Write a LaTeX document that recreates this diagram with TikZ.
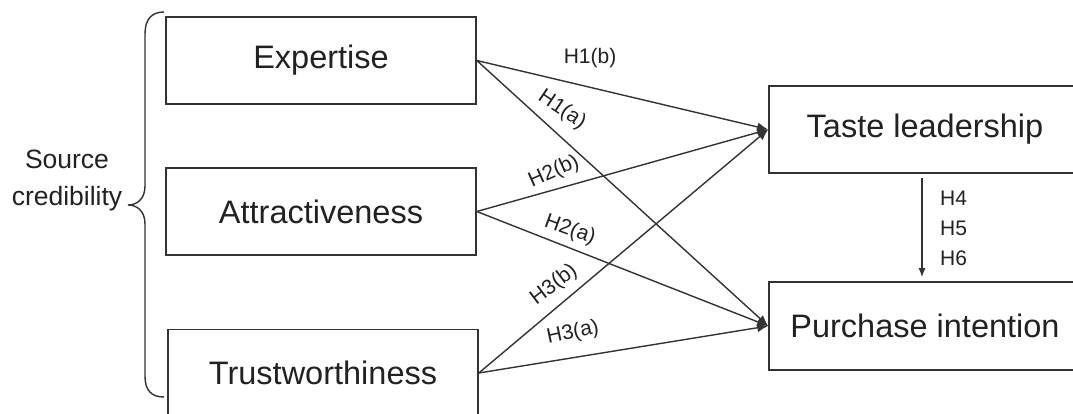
\documentclass[tikz,border=0pt]{standalone}
\usepackage{fontspec}
\setmainfont{Liberation Sans}
\usetikzlibrary{arrows.meta}
\definecolor{ink}{HTML}{222222}
\definecolor{edge}{HTML}{333333}
\tikzset{
  boxnode/.style={draw=edge, line width=1.6pt, minimum width=310pt, minimum height=87pt, inner sep=0pt, text=ink, font=\fontsize{32.5}{39}\selectfont},
  conn/.style={draw=edge, line width=1.4pt, -{Latex[length=11pt,width=9pt]}},
  hlabel/.style={text=ink, inner sep=0pt, font=\fontsize{21}{25}\selectfont}
}
\begin{document}
\begin{tikzpicture}[x=1pt,y=-1pt]
\clip (0,0) rectangle (1073,414);
\fill[white] (0,0) rectangle (1073,414);
\node[boxnode] (exp) at (321,60.5) {Expertise};
\node[boxnode] (att) at (321,211.5) {Attractiveness};
\node[boxnode] (tru) at (323,373) {Trustworthiness};
\node[boxnode, minimum width=312pt] (tas) at (925,129.5) {Taste leadership};
\node[boxnode, minimum width=312pt, minimum height=88pt] (pur) at (925,326) {Purchase intention};
\node[text=ink, align=center, inner sep=0pt, font=\fontsize{26.5}{37}\selectfont] (src) at (67,180) {Source\\credibility};
\draw[edge, line width=1.4pt] (164,12) .. controls (151,12) and (145,20) .. (145,34) -- (145,186)
  .. controls (145,199) and (137,205) .. (128,205)
  .. controls (137,205) and (145,211) .. (145,224) -- (145,376)
  .. controls (145,390) and (151,397) .. (164,397);
\draw[conn] (exp.east) -- (tas.west);
\draw[conn] (exp.east) -- (pur.west);
\draw[conn] (att.east) -- (tas.west);
\draw[conn] (att.east) -- (pur.west);
\draw[conn] (tru.east) -- (tas.west);
\draw[conn] (tru.east) -- (pur.west);
\draw[draw=edge, line width=1.4pt, -{Latex[length=9pt,width=7pt]}, shorten <=4pt, shorten >=4pt] ([xshift=-3pt]tas.south) -- ([xshift=-3pt]pur.north);
\node[hlabel] (l1b) at (590,58) {H1(b)};
\node[hlabel, rotate=-34] (l1a) at (562,110) {H1(a)};
\node[hlabel, rotate=24] (l2b) at (554,172) {H2(b)};
\node[hlabel, rotate=-20] (l2a) at (570,230) {H2(a)};
\node[hlabel, rotate=37] (l3b) at (554,285) {H3(b)};
\node[hlabel, rotate=12] (l3a) at (573,333) {H3(a)};
\node[hlabel, align=left, anchor=west, font=\fontsize{21}{30}\selectfont] (h456) at (940,228) {H4\\H5\\H6};
\end{tikzpicture}
\end{document}
